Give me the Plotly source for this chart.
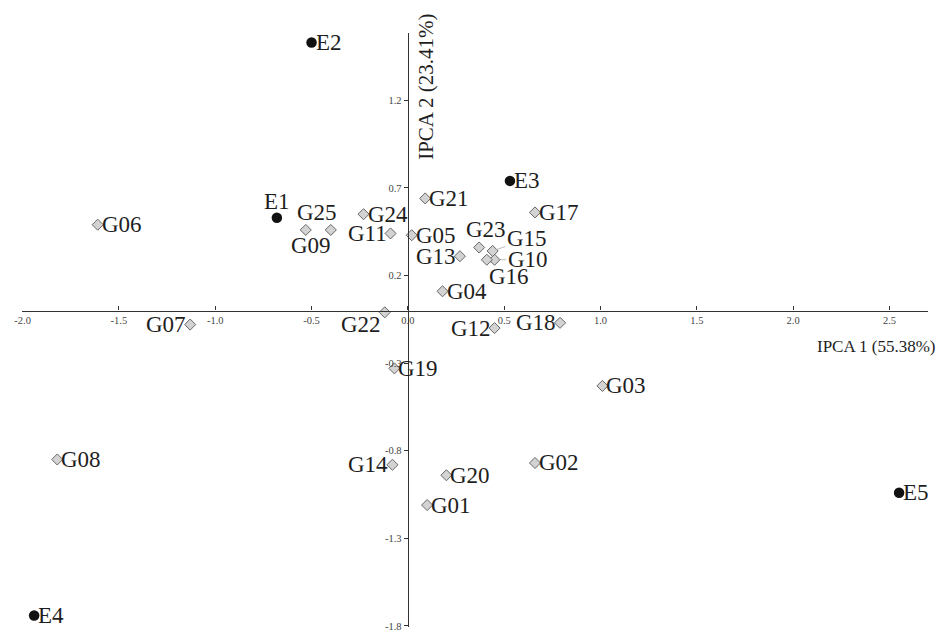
import plotly.graph_objects as go

# ---------------- data ----------------
env_names = ["E1", "E2", "E3", "E4", "E5"]
env_x = [-0.68, -0.50, 0.53, -1.94, 2.55]
env_y = [0.53, 1.53, 0.74, -1.74, -1.04]

gen_names = ["G01", "G02", "G03", "G04", "G05", "G06", "G07", "G08", "G09", "G10",
             "G11", "G12", "G13", "G14", "G15", "G16", "G17", "G18", "G19", "G20",
             "G21", "G22", "G23", "G24", "G25"]
gen_x = [0.10, 0.66, 1.01, 0.18, 0.02, -1.61, -1.13, -1.82, -0.40, 0.45,
         -0.09, 0.45, 0.27, -0.08, 0.44, 0.41, 0.66, 0.79, -0.07, 0.20,
         0.09, -0.12, 0.37, -0.23, -0.53]
gen_y = [-1.11, -0.87, -0.43, 0.11, 0.43, 0.49, -0.08, -0.85, 0.46, 0.29,
         0.44, -0.10, 0.31, -0.88, 0.34, 0.29, 0.56, -0.07, -0.33, -0.94,
         0.64, -0.01, 0.36, 0.55, 0.46]

x_tickvals = [-2.0, -1.5, -1.0, -0.5, 0.0, 0.5, 1.0, 1.5, 2.0, 2.5]
x_ticktext = ["-2.0", "-1.5", "-1.0", "-0.5", "0.0", "0.5", "1.0", "1.5", "2.0", "2.5"]
y_tickvals = [-1.8, -1.3, -0.8, -0.3, 0.2, 0.7, 1.2]
y_ticktext = ["-1.8", "-1.3", "-0.8", "-0.3", "0.2", "0.7", "1.2"]

x_title = "IPCA 1 (55.38%)"
y_title = "IPCA 2 (23.41%)"

# ---------------- styling / label placement ----------------
X_RANGE = [-2.003, 2.70]
Y_RANGE = [-1.806, 1.584]
SERIF = "Liberation Serif, Times New Roman, serif"
LABEL_SIZE = 23
TEXT_COLOR = "#1e1e1e"
AXIS_COLOR = "#333333"

# default: label right of marker; overrides below
label_place = {
    "E1": dict(mode="offset", dx=0, dy=-16),
    "G25": dict(mode="offset", dx=11, dy=-17),
    "G09": dict(mode="arrow", dx=-20, dy=16),
    "G23": dict(mode="arrow", dx=7, dy=-18),
    "G15": dict(mode="arrow", dx=34, dy=-12),
    "G10": dict(mode="arrow", dx=33, dy=0),
    "G16": dict(mode="arrow", dx=22, dy=17),
    "G13": dict(mode="left"),
    "G11": dict(mode="left"),
    "G22": dict(mode="left", dy=12),
    "G07": dict(mode="left"),
    "G12": dict(mode="left"),
    "G18": dict(mode="left"),
    "G14": dict(mode="left"),
}

fig = go.Figure()

fig.add_trace(go.Scatter(
    x=gen_x, y=gen_y, mode="markers", name="Genotypes",
    marker=dict(symbol="diamond", size=8.5, color="#d3d3d3",
                line=dict(color="#666666", width=1)),
    hovertext=gen_names, hoverinfo="text",
))
fig.add_trace(go.Scatter(
    x=env_x, y=env_y, mode="markers", name="Environments",
    marker=dict(symbol="circle", size=10.5, color="#111111",
                line=dict(color="#111111", width=0)),
    hovertext=env_names, hoverinfo="text",
))

annotations = []
for names, xs, ys in ((env_names, env_x, env_y), (gen_names, gen_x, gen_y)):
    for n, x, y in zip(names, xs, ys):
        p = label_place.get(n, dict(mode="right"))
        font = dict(family=SERIF, size=LABEL_SIZE, color=TEXT_COLOR)
        m = p["mode"]
        if m == "right":
            annotations.append(dict(x=x, y=y, text=n, showarrow=False, xanchor="left",
                                    yanchor="middle", xshift=2, yshift=-p.get("dy", 0),
                                    font=font))
        elif m == "left":
            annotations.append(dict(x=x, y=y, text=n, showarrow=False, xanchor="right",
                                    yanchor="middle", xshift=-2, yshift=-p.get("dy", 0),
                                    font=font))
        elif m == "offset":
            annotations.append(dict(x=x, y=y, text=n, showarrow=False, xanchor="center",
                                    yanchor="middle", xshift=p["dx"], yshift=-p["dy"],
                                    font=font))
        else:  # arrow (thin leader line)
            annotations.append(dict(x=x, y=y, text=n, showarrow=True, arrowhead=0,
                                    arrowwidth=0.8, arrowcolor="#aaaaaa",
                                    ax=p["dx"], ay=p["dy"], standoff=3,
                                    font=font))

# axis titles
annotations.append(dict(x=1.0, xref="paper", y=0, yref="y", text=x_title, showarrow=False,
                        xanchor="right", yanchor="middle", yshift=-36, xshift=10,
                        font=dict(family=SERIF, size=17, color=TEXT_COLOR)))
annotations.append(dict(x=0, xref="x", y=1.0, yref="paper", text=y_title, showarrow=False,
                        textangle=-90, xanchor="center", yanchor="middle",
                        xshift=18, yshift=-54,
                        font=dict(family=SERIF, size=21, color=TEXT_COLOR)))

x_pos = (0 - Y_RANGE[0]) / (Y_RANGE[1] - Y_RANGE[0])
y_pos = (0 - X_RANGE[0]) / (X_RANGE[1] - X_RANGE[0])

tickfont = dict(family=SERIF, size=10.5, color="#444444")
fig.update_layout(
    width=938, height=632,
    margin=dict(l=22, r=10, t=33, b=5),
    paper_bgcolor="white", plot_bgcolor="white",
    showlegend=False,
    annotations=annotations,
    xaxis=dict(range=X_RANGE, anchor="free", position=x_pos, side="bottom",
               tickvals=x_tickvals, ticktext=x_ticktext, tickfont=tickfont,
               showline=True, linecolor=AXIS_COLOR, linewidth=1.3,
               ticks="inside", ticklen=4, tickcolor=AXIS_COLOR,
               showgrid=False, zeroline=False, automargin=False),
    yaxis=dict(range=Y_RANGE, anchor="free", position=y_pos, side="left",
               tickvals=y_tickvals, ticktext=y_ticktext, tickfont=tickfont,
               showline=True, linecolor=AXIS_COLOR, linewidth=1.3,
               ticks="outside", ticklen=4, tickcolor=AXIS_COLOR,
               showgrid=False, zeroline=False, automargin=False),
)

fig.write_html("out.html", config={"displayModeBar": False},
               post_script="document.body.style.margin='0';")
